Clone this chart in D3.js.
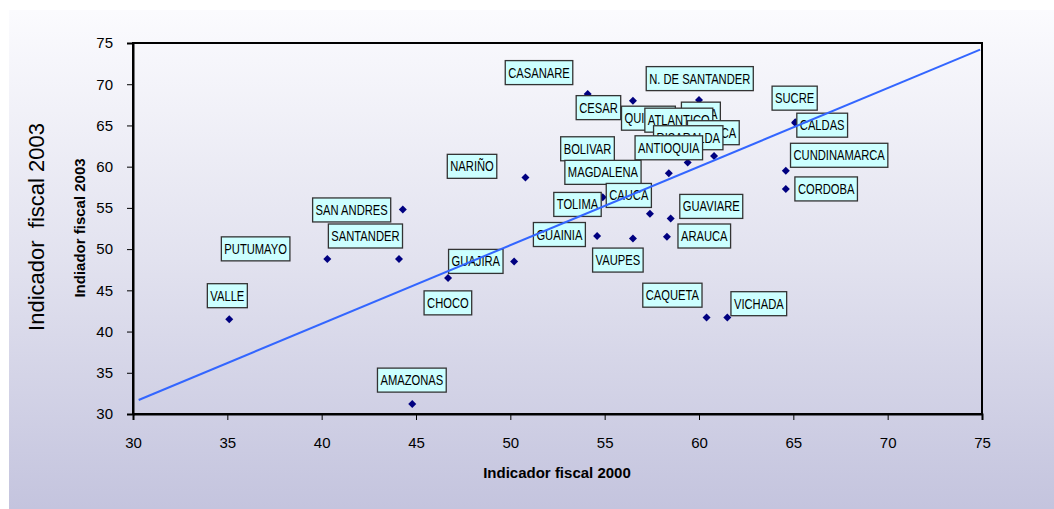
<!DOCTYPE html>
<html>
<head>
<meta charset="utf-8">
<script src="https://cdn.jsdelivr.net/npm/d3@7"></script>
<style>
  html, body { margin: 0; padding: 0; background: #ffffff; }
  svg { display: block; font-family: "Liberation Sans", Arial, sans-serif; }
</style>
</head>
<body>
<svg id="chart" width="1054" height="509"></svg>
<script>
// ---- data ----
const names = ["CASANARE","CESAR","N. DE SANTANDER","HUILA","QUINDIO","ATLANTICO","BOYACA","RISARALDA",
  "ANTIOQUIA","BOLIVAR","MAGDALENA","TOLIMA","CAUCA","GUAINIA","VAUPES","GUAVIARE","ARAUCA",
  "CAQUETA","VICHADA","SUCRE","CALDAS","CUNDINAMARCA","CORDOBA","NARIÑO","SAN ANDRES","SANTANDER",
  "PUTUMAYO","VALLE","GUAJIRA","CHOCO","AMAZONAS"];
const fiscal2000 = [54.1, 56.5, 60.0, 60.0, 56.8, 59.0, 61.1, 60.8,
  59.4, 54.2, 58.4, 54.9, 57.4, 54.6, 56.5, 58.5, 58.3,
  60.4, 61.5, 65.1, 65.1, 64.6, 64.6, 50.8, 44.3, 44.1,
  40.3, 35.1, 50.2, 46.7, 44.8];
const fiscal2003 = [68.8, 68.0, 68.1, 66.6, 65.6, 64.6, 62.9, 61.3,
  60.5, 62.0, 59.2, 56.3, 54.3, 51.6, 51.3, 53.7, 51.5,
  41.7, 41.7, 65.3, 65.4, 59.5, 57.3, 58.7, 54.8, 48.8,
  48.8, 41.5, 48.5, 46.5, 31.2];
// label anchor (centre) in data units
const labelX = [51.52, 54.67, 60.04, 60.1, 57.32, 58.93, 60.76, 59.43,
  58.4, 54.09, 54.91, 53.56, 56.28, 52.6, 55.7, 60.65, 60.28,
  58.59, 63.17, 65.07, 66.53, 67.43, 66.74, 47.97, 41.59, 42.32,
  36.5, 35.0, 48.17, 46.69, 44.78];
const labelY = [71.41, 67.16, 70.68, 66.37, 65.88, 65.64, 64.12, 63.51,
  62.29, 62.17, 59.31, 55.42, 56.51, 51.77, 48.67, 55.18, 51.59,
  44.41, 43.38, 68.31, 65.03, 61.38, 57.3, 60.04, 54.75, 51.59,
  50.03, 44.35, 48.51, 43.48, 34.11];
const xTicks = [30, 35, 40, 45, 50, 55, 60, 65, 70, 75];
const yTicks = [30, 35, 40, 45, 50, 55, 60, 65, 70, 75];
const trendX = [30.3, 74.9];
const trendY = [31.7, 74.2];
const xTitle = "Indicador fiscal 2000";
const yTitleInner = "Indiador fiscal 2003";
const yTitleOuter = "Indicador  fiscal 2003";

// ---- chart ----
const svg = d3.select("#chart");
const defs = svg.append("defs");
const grad = defs.append("linearGradient").attr("id", "bg").attr("x1", 0).attr("y1", 0).attr("x2", 0).attr("y2", 1);
grad.append("stop").attr("offset", "0%").attr("stop-color", "#fbfbfe");
grad.append("stop").attr("offset", "50%").attr("stop-color", "#e2e2ef");
grad.append("stop").attr("offset", "100%").attr("stop-color", "#c4c4de");

svg.append("rect").attr("x", 9).attr("y", 10).attr("width", 1045).attr("height", 499).attr("fill", "url(#bg)");

const x = d3.scaleLinear().domain([30, 75]).range([133, 982]);
const y = d3.scaleLinear().domain([30, 75]).range([414, 43]);

// frame
svg.append("rect").attr("x", x(30)).attr("y", y(75))
  .attr("width", x(75) - x(30)).attr("height", y(30) - y(75))
  .attr("fill", "none").attr("stroke", "#000").attr("stroke-width", 2);

const xAxis = svg.append("g").attr("transform", `translate(0,${y(30)})`)
  .call(d3.axisBottom(x).tickValues(xTicks).tickSize(6).tickPadding(17).tickFormat(d3.format("d")));
const yAxis = svg.append("g").attr("transform", `translate(${x(30)},0)`)
  .call(d3.axisLeft(y).tickValues(yTicks).tickSize(6).tickPadding(14).tickFormat(d3.format("d")));
[xAxis, yAxis].forEach(a => {
  a.select(".domain").attr("stroke", "#000").attr("stroke-width", 2);
  a.selectAll(".tick line").attr("stroke", "#000").attr("stroke-width", 1);
  a.selectAll(".tick text").attr("font-size", 15).attr("fill", "#000")
    .attr("font-family", "'Liberation Sans', Arial, sans-serif");
});

// axis titles
svg.append("text").attr("x", 557).attr("y", 478).attr("text-anchor", "middle")
  .attr("font-size", 15).attr("font-weight", "bold").text(xTitle);
svg.append("text").attr("transform", "translate(85,228) rotate(-90)").attr("text-anchor", "middle")
  .attr("font-size", 15).attr("font-weight", "bold").text(yTitleInner);
svg.append("text").attr("transform", "translate(44,227) rotate(-90)").attr("text-anchor", "middle")
  .attr("font-size", 22).style("white-space", "pre").text(yTitleOuter);

const data = names.map((n, i) => ({ name: n, vx: fiscal2000[i], vy: fiscal2003[i], lx: labelX[i], ly: labelY[i] }));

// points
const diamond = d3.symbol().type(d3.symbolSquare).size(32);
svg.append("g").selectAll("path").data(data).join("path")
  .attr("d", diamond)
  .attr("transform", d => `translate(${x(d.vx)},${y(d.vy)}) rotate(45)`)
  .attr("fill", "#000080");

// labels
const lg = svg.append("g").selectAll("g").data(data).join("g")
  .attr("transform", d => `translate(${x(d.lx)},${y(d.ly)})`);
lg.each(function(d) {
  const g = d3.select(this);
  const rect = g.append("rect");
  const t = g.append("text").attr("transform", "scale(0.8,1)")
    .attr("text-anchor", "middle").attr("dy", "0.36em")
    .attr("font-size", 14).attr("fill", "#000").text(d.name);
  const w = t.node().getComputedTextLength() * 0.8 + 6;
  const h = 24;
  rect.attr("x", -w / 2).attr("y", -h / 2).attr("width", w).attr("height", h)
    .attr("fill", "#ccffff").attr("stroke", "#333").attr("stroke-width", 1.3);
});

// trend line
svg.append("line")
  .attr("x1", x(trendX[0])).attr("y1", y(trendY[0]))
  .attr("x2", x(trendX[1])).attr("y2", y(trendY[1]))
  .attr("stroke", "#3366ff").attr("stroke-width", 2);
</script>
</body>
</html>
